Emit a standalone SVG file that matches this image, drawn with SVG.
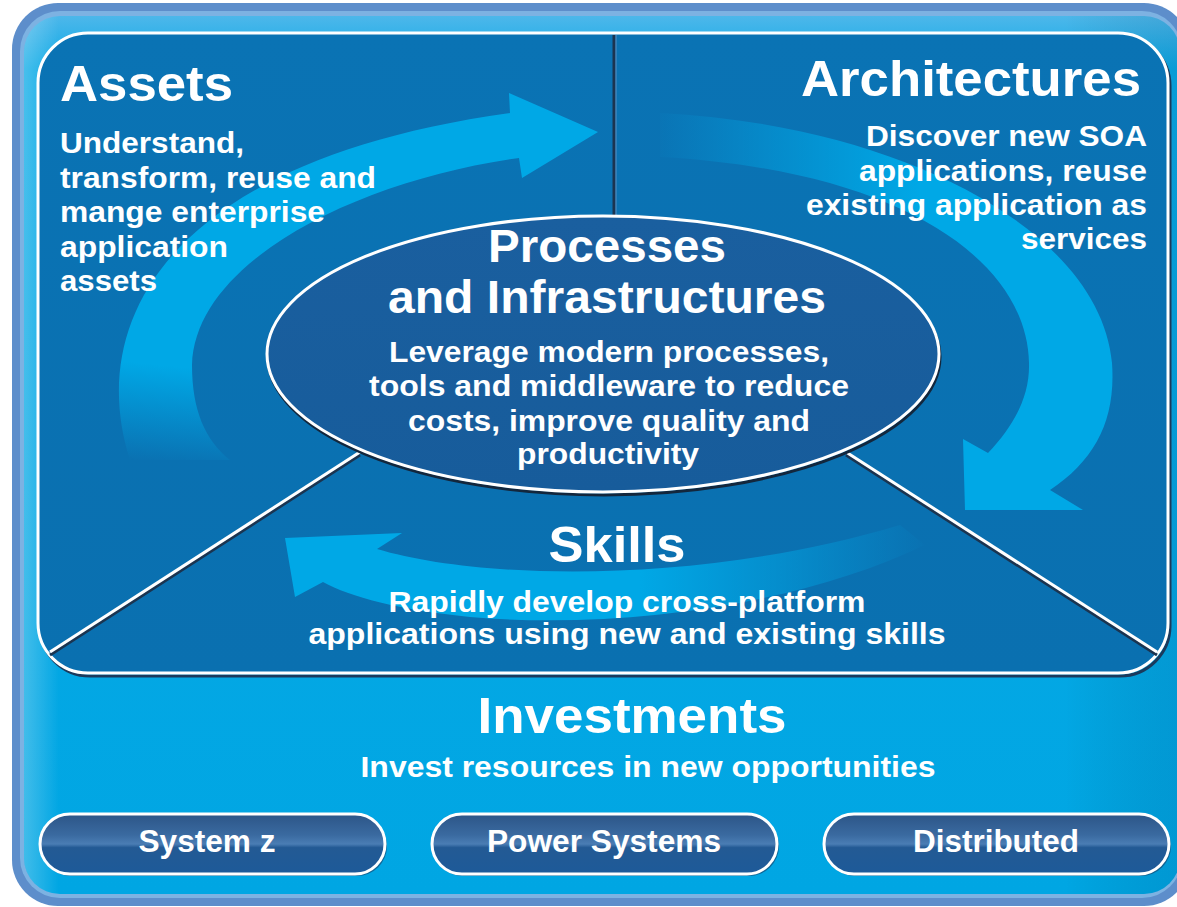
<svg xmlns="http://www.w3.org/2000/svg" width="1177" height="907" viewBox="0 0 1177 907">
<defs>
<style>
.t{font-family:"Liberation Sans",Arial,sans-serif;font-weight:bold;fill:#ffffff}
.h{font-size:50px}
.hp{font-size:46px}
.b{font-size:30px}
.btn-t{font-size:31px}
.arrow{stroke:none}
.white-line{stroke:#ffffff;stroke-width:3;fill:none}
.shadow-line{stroke:#1b3450;stroke-width:3;fill:none}
</style>
<linearGradient id="frameFill" x1="0" y1="0" x2="0" y2="1">
<stop offset="0" stop-color="#4db7ea"/>
<stop offset="0.06" stop-color="#0aaae6"/>
<stop offset="1" stop-color="#00a6e3"/>
</linearGradient>
<linearGradient id="frameSide" x1="0" y1="0" x2="1" y2="0">
<stop offset="0" stop-color="#ffffff" stop-opacity="0.25"/>
<stop offset="0.03" stop-color="#ffffff" stop-opacity="0"/>
<stop offset="0.9" stop-color="#000000" stop-opacity="0"/>
<stop offset="1" stop-color="#003060" stop-opacity="0.12"/>
</linearGradient>
<linearGradient id="panelFill" x1="0" y1="0" x2="0" y2="1">
<stop offset="0" stop-color="#0a73b4"/>
<stop offset="1" stop-color="#0a70b0"/>
</linearGradient>
<linearGradient id="ellFill" x1="0" y1="0" x2="0" y2="1">
<stop offset="0" stop-color="#1a5f9f"/>
<stop offset="1" stop-color="#175c9b"/>
</linearGradient>
<linearGradient id="btnFill" x1="0" y1="0" x2="0" y2="1">
<stop offset="0" stop-color="#2c5587"/>
<stop offset="0.35" stop-color="#3a6aa0"/>
<stop offset="0.5" stop-color="#4a7db4"/>
<stop offset="0.56" stop-color="#235a94"/>
<stop offset="1" stop-color="#1d5a99"/>
</linearGradient>
<linearGradient id="a1" gradientUnits="userSpaceOnUse" x1="150" y1="462" x2="160" y2="365">
<stop offset="0" stop-color="#00a8e6" stop-opacity="0"/>
<stop offset="1" stop-color="#00a8e6" stop-opacity="1"/>
</linearGradient>
<linearGradient id="a2" gradientUnits="userSpaceOnUse" x1="650" y1="0" x2="920" y2="0">
<stop offset="0" stop-color="#00a8e6" stop-opacity="0"/>
<stop offset="1" stop-color="#00a8e6" stop-opacity="1"/>
</linearGradient>
<linearGradient id="a3" gradientUnits="userSpaceOnUse" x1="930" y1="0" x2="640" y2="0">
<stop offset="0" stop-color="#00a8e6" stop-opacity="0"/>
<stop offset="1" stop-color="#00a8e6" stop-opacity="1"/>
</linearGradient>
</defs>

<g id="frame">
<rect x="12" y="3" width="1178" height="903" rx="46" fill="#5d8ecb"/>
<rect x="20" y="11" width="1162" height="887" rx="40" fill="#7db2e2"/>
<rect x="24" y="16" width="1156" height="878" rx="36" fill="url(#frameFill)"/>
<rect x="24" y="16" width="1156" height="878" rx="36" fill="url(#frameSide)"/>
</g>

<g id="panel">
<rect x="40" y="36" width="1130" height="640" rx="50" fill="none" stroke="#1b3a5c" stroke-width="3"/>
<rect x="38" y="33" width="1130" height="640" rx="50" fill="url(#panelFill)" stroke="#ffffff" stroke-width="3"/>
</g>

<g id="arrows">
<path class="arrow" fill="url(#a1)" d="M130,460 C85,320 170,160 510,113 L509,93 L598,132 L522,178 L519,158 C360,180 195,260 192,365 C192,410 205,440 230,460 Z"/>
<path class="arrow" fill="url(#a2)" d="M660,113 C900,125 1100,230 1112,363 C1116,420 1095,460 1050,490 L1083,510 L965,510 L963,439 L988,453 C1015,425 1030,395 1029,363 C1027,260 900,170 660,157 Z"/>
<path class="arrow" fill="url(#a3)" d="M377,549 C480,580 700,585 900,525 L925,545 C800,605 620,630 470,617 C400,610 350,597 323,582 L295,597 L285,538 L402,533 Z"/>
</g>

<g id="connectors">
<line class="shadow-line" x1="614" y1="35" x2="614" y2="217"/>
<line x1="616" y1="35" x2="616" y2="217" stroke="#5a8fc0" stroke-width="1"/>
<line class="shadow-line" x1="360" y1="455" x2="50" y2="655"/>
<line class="white-line" x1="360" y1="452" x2="50" y2="652"/>
<line class="shadow-line" x1="846" y1="455" x2="1157" y2="655"/>
<line class="white-line" x1="846" y1="452" x2="1157" y2="652"/>
</g>

<g id="processes">
<ellipse cx="604" cy="357" rx="336" ry="138" fill="none" stroke="#13273d" stroke-width="3"/>
<ellipse cx="603" cy="354" rx="336" ry="138" fill="url(#ellFill)" stroke="#ffffff" stroke-width="3"/>
<text class="t hp" x="607" y="262" text-anchor="middle" textLength="238" lengthAdjust="spacingAndGlyphs">Processes</text>
<text class="t hp" x="607" y="313" text-anchor="middle" textLength="438" lengthAdjust="spacingAndGlyphs">and Infrastructures</text>
<text class="t b" x="609" y="362" text-anchor="middle" textLength="440" lengthAdjust="spacingAndGlyphs">Leverage modern processes,</text>
<text class="t b" x="609" y="396" text-anchor="middle" textLength="480" lengthAdjust="spacingAndGlyphs">tools and middleware to reduce</text>
<text class="t b" x="609" y="431" text-anchor="middle" textLength="402" lengthAdjust="spacingAndGlyphs">costs, improve quality and</text>
<text class="t b" x="608" y="464" text-anchor="middle" textLength="182" lengthAdjust="spacingAndGlyphs">productivity</text>
</g>

<g id="assets">
<text class="t h" x="60" y="101" textLength="173" lengthAdjust="spacingAndGlyphs">Assets</text>
<text class="t b" x="60" y="153" textLength="184" lengthAdjust="spacingAndGlyphs">Understand,</text>
<text class="t b" x="60" y="188" textLength="316" lengthAdjust="spacingAndGlyphs">transform, reuse and</text>
<text class="t b" x="60" y="222" textLength="265" lengthAdjust="spacingAndGlyphs">mange enterprise</text>
<text class="t b" x="60" y="257" textLength="168" lengthAdjust="spacingAndGlyphs">application</text>
<text class="t b" x="60" y="291" textLength="97" lengthAdjust="spacingAndGlyphs">assets</text>
</g>

<g id="architectures">
<text class="t h" x="1141" y="96" text-anchor="end" textLength="340" lengthAdjust="spacingAndGlyphs">Architectures</text>
<text class="t b" x="1147" y="146" text-anchor="end" textLength="281" lengthAdjust="spacingAndGlyphs">Discover new SOA</text>
<text class="t b" x="1147" y="181" text-anchor="end" textLength="288" lengthAdjust="spacingAndGlyphs">applications, reuse</text>
<text class="t b" x="1147" y="215" text-anchor="end" textLength="341" lengthAdjust="spacingAndGlyphs">existing application as</text>
<text class="t b" x="1147" y="249" text-anchor="end" textLength="126" lengthAdjust="spacingAndGlyphs">services</text>
</g>

<g id="skills">
<text class="t h" x="617" y="562" text-anchor="middle" textLength="137" lengthAdjust="spacingAndGlyphs">Skills</text>
<text class="t b" x="627" y="612" text-anchor="middle" textLength="477" lengthAdjust="spacingAndGlyphs">Rapidly develop cross-platform</text>
<text class="t b" x="627" y="644" text-anchor="middle" textLength="637" lengthAdjust="spacingAndGlyphs">applications using new and existing skills</text>
</g>

<g id="investments">
<text class="t h" x="632" y="733" text-anchor="middle" textLength="309" lengthAdjust="spacingAndGlyphs">Investments</text>
<text class="t b" x="648" y="777" text-anchor="middle" textLength="575" lengthAdjust="spacingAndGlyphs">Invest resources in new opportunities</text>
</g>

<g id="btn-systemz">
<rect x="41" y="816" width="346" height="60" rx="30" fill="#1b4068" opacity="0.6"/>
<rect x="40" y="814" width="345" height="60" rx="30" fill="url(#btnFill)" stroke="#ffffff" stroke-width="3"/>
<text class="t btn-t" x="207" y="852" text-anchor="middle" textLength="137" lengthAdjust="spacingAndGlyphs">System z</text>
</g>
<g id="btn-power">
<rect x="433" y="816" width="346" height="60" rx="30" fill="#1b4068" opacity="0.6"/>
<rect x="432" y="814" width="345" height="60" rx="30" fill="url(#btnFill)" stroke="#ffffff" stroke-width="3"/>
<text class="t btn-t" x="604" y="852" text-anchor="middle" textLength="234" lengthAdjust="spacingAndGlyphs">Power Systems</text>
</g>
<g id="btn-distributed">
<rect x="825" y="816" width="346" height="60" rx="30" fill="#1b4068" opacity="0.6"/>
<rect x="824" y="814" width="345" height="60" rx="30" fill="url(#btnFill)" stroke="#ffffff" stroke-width="3"/>
<text class="t btn-t" x="996" y="852" text-anchor="middle" textLength="166" lengthAdjust="spacingAndGlyphs">Distributed</text>
</g>
</svg>
